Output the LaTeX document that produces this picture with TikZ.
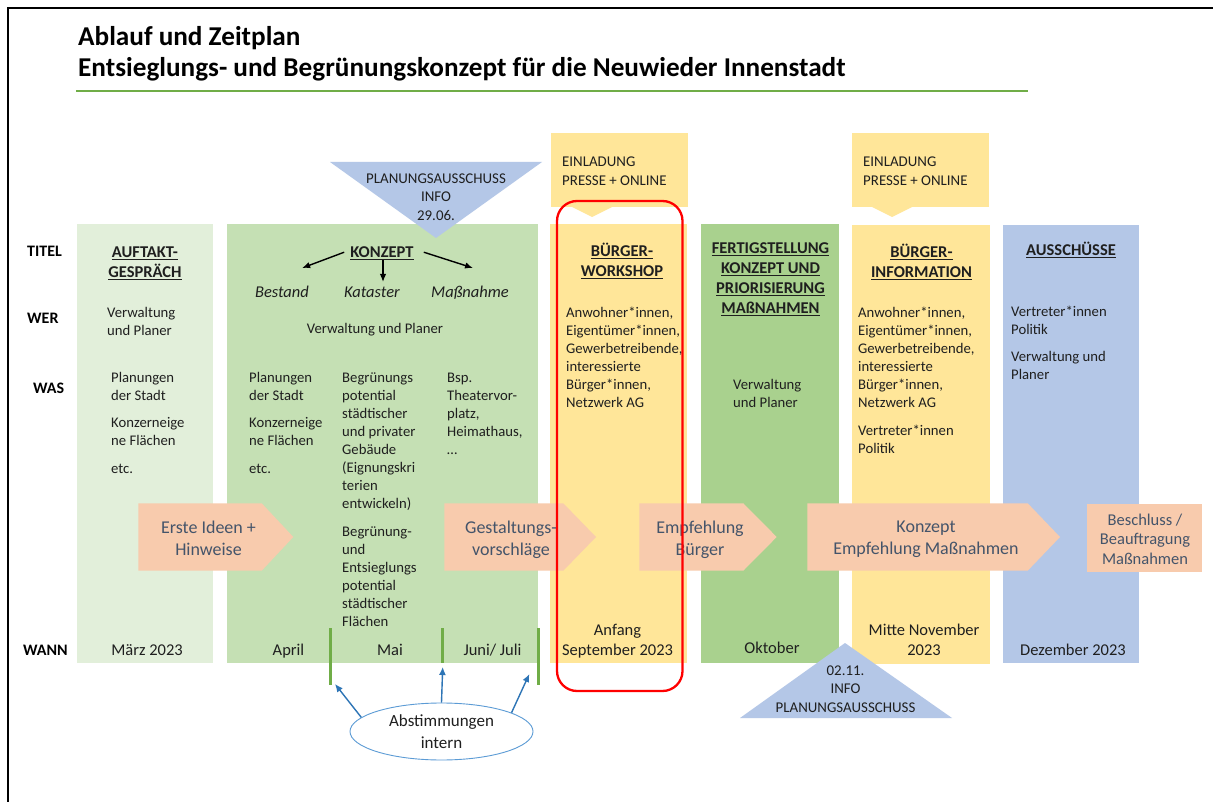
\documentclass[tikz,border=0pt]{standalone}
\usepackage{fontspec}
\setmainfont{Carlito}
\usetikzlibrary{shapes.geometric,arrows.meta,calc}
\definecolor{cA}{HTML}{E2EFDA}
\definecolor{cB}{HTML}{C5E0B4}
\definecolor{cY}{HTML}{FFE699}
\definecolor{cG}{HTML}{A9D18E}
\definecolor{cBl}{HTML}{B4C7E7}
\definecolor{cS}{HTML}{F8CBAD}
\definecolor{cT}{HTML}{44546A}
\definecolor{txt}{HTML}{1F1F1F}
\definecolor{gline}{HTML}{70AD47}
\definecolor{bline}{HTML}{2E75B6}
\definecolor{eline}{HTML}{5B9BD5}
\newcommand\uln[1]{\setbox0\hbox{#1}\rlap{\rule[-2.6pt]{\wd0}{1.1pt}}\box0}
\tikzset{
  ttl/.style={font=\bfseries\fontsize{27.2}{32}\selectfont, inner sep=0pt, anchor=base west},
  body/.style={font=\fontsize{14.7}{18}\selectfont, text=txt, inner sep=0pt, align=left, anchor=north west, yshift=12.6pt},
  hd/.style={font=\bfseries\fontsize{16.5}{20}\selectfont, text=txt, inner sep=0pt, align=center, anchor=north, yshift=14pt},
  wann/.style={font=\fontsize{16.5}{19.5}\selectfont, text=txt, inner sep=0pt, align=center, anchor=north, yshift=13.65pt},
  itl/.style={font=\itshape\fontsize{16.5}{20}\selectfont, text=txt, inner sep=0pt, anchor=north, yshift=14pt},
  caps/.style={font=\fontsize{14.9}{18.5}\selectfont, text=txt, inner sep=0pt, align=left, anchor=north west, yshift=12.95pt},
  capsc/.style={caps, align=center, anchor=north},
  rowlab/.style={font=\bfseries\fontsize{16}{19}\selectfont, inner sep=0pt, anchor=base west},
  chtxt/.style={font=\fontsize{18}{22}\selectfont, text=cT, inner sep=0pt, align=center, anchor=north, yshift=15.4pt},
  bstxt/.style={font=\fontsize{16.5}{19.5}\selectfont, text=cT, inner sep=0pt, align=center, anchor=north, yshift=13.65pt},
  karr/.style={line width=1.4pt, -{Latex[length=8pt,width=6.5pt]}},
  barr/.style={draw=bline, line width=1.4pt, -{Latex[length=8pt,width=7pt]}},
  gbar/.style={draw=gline, line width=3pt},
}
\begin{document}
\begin{tikzpicture}[x=1pt,y=-1pt]
\useasboundingbox (0,0) rectangle (1213,802);
\fill[white] (0,0) rectangle (1213,802);
% frame
\draw[line width=2.5pt] (8,802) -- (8,8) -- (1213,8);
% title
\node[ttl] (t1) at (78,46) {Ablauf und Zeitplan};
\node[ttl] (t2) at (78,76.5) {Entsieglungs- und Begrünungskonzept für die Neuwieder Innenstadt};
\draw[draw=gline, line width=2.2pt] (76,91) -- (1028,91);
% columns
\fill[cA] (77,224) rectangle (213,663);
\fill[cB] (227,224) rectangle (538,663);
\fill[cY] (550,224) rectangle (687,663);
\fill[cG] (701,224) rectangle (839,663);
\fill[cY] (852,225) rectangle (990,664);
\fill[cBl] (1003,225) rectangle (1139,663);
% callouts
\fill[cY] (551,133) rectangle (688,207.5);
\fill[cY] (572,207) -- (592,217) -- (612,207) -- cycle;
\fill[cY] (852,133) rectangle (989,207.5);
\fill[cY] (872,207) -- (892,217) -- (912,207) -- cycle;
% triangles
\fill[cBl] (330,162) -- (542,162) -- (436,238) -- cycle;
\fill[cBl] (740,718) -- (952,718) -- (845,643) -- cycle;
% chevrons
\fill[cS] (138.3,503.3) -- (261.7,503.3) -- (293.3,537) -- (261.7,570.7) -- (138.3,570.7) -- cycle;
\fill[cS] (444.3,503.3) -- (563.3,503.3) -- (596,537) -- (563.3,570.7) -- (444.3,570.7) -- cycle;
\fill[cS] (639.3,503.3) -- (743.3,503.3) -- (776.7,537) -- (743.3,570.7) -- (639.3,570.7) -- cycle;
\fill[cS] (807.3,503.3) -- (1027.7,503.3) -- (1060,537) -- (1027.7,570.7) -- (807.3,570.7) -- cycle;
\fill[cS] (1086.7,504) rectangle (1201.7,572.3);
% row labels
\node[rowlab] (rTitel) at (27,256.5) {TITEL};
\node[rowlab] (rWer) at (27,324) {WER};
\node[rowlab] (rWas) at (33,393) {WAS};
\node[rowlab] (rWann) at (23,655.5) {WANN};
% callout texts
\node[caps] (inv1) at (562,166.5) {\strut EINLADUNG\\PRESSE + ONLINE};
\node[caps] (inv2) at (863,166.5) {\strut EINLADUNG\\PRESSE + ONLINE};
\node[capsc] (ta) at (436,183) {\strut PLANUNGSAUSSCHUSS\\INFO\\29.06.};
\node[capsc] (tb) at (845.5,675) {\strut 02.11.\\INFO\\PLANUNGSAUSSCHUSS};
% column 1
\node[hd] (h1) at (145,257) {\strut\uln{AUFTAKT-}\\\uln{GESPRÄCH}};
\node[body] (c1wer) at (107,317) {\strut Verwaltung\\und Planer};
\node[body] (c1a) at (111,382) {\strut Planungen\\der Stadt};
\node[body] (c1b) at (111,427.5) {\strut Konzerneige\\ne Flächen};
\node[body] (c1c) at (111,473) {\strut etc.};
\node[wann] (w1) at (147,655) {\strut März 2023};
% column 2
\node[hd] (konzept) at (382,257) {\strut\uln{KONZEPT}};
\node[itl] (bestand) at (282,297) {\strut Bestand};
\node[itl] (kataster) at (372,297) {\strut Kataster};
\node[itl] (massn) at (470,297) {\strut Maßnahme};
\draw[karr] ($(konzept.west)+(-6,-1)$) -- ($(bestand.north east)+(-7,-15)$);
\draw[karr] ($(konzept.south)+(1,-3)$) -- ($(kataster.north)+(11,-1)$);
\draw[karr] ($(konzept.east)+(10,-1)$) -- ($(massn.north)+(3,-15)$);
\node[body, anchor=north] (c2wer) at (375,333) {\strut Verwaltung und Planer};
\node[body] (c2a) at (249,382) {\strut Planungen\\der Stadt};
\node[body] (c2b) at (249,427.5) {\strut Konzerneige\\ne Flächen};
\node[body] (c2c) at (249,473) {\strut etc.};
\node[body] (c2d) at (342,382) {\strut Begrünungs\\potential\\städtischer\\und privater\\Gebäude\\(Eignungskri\\terien\\entwickeln)};
\node[body] (c2e) at (342,536) {\strut Begrünung-\\und\\Entsieglungs\\potential\\städtischer\\Flächen};
\node[body] (c2f) at (447,382) {\strut Bsp.\\Theatervor-\\platz,\\Heimathaus,\\…};
\node[wann] (w2a) at (288.5,655) {\strut April};
\node[wann] (w2b) at (390,655) {\strut Mai};
\node[wann] (w2c) at (492.5,655) {\strut Juni/ Juli};
% column 3
\node[hd] (h3) at (622,256.5) {\strut\uln{BÜRGER-}\\\uln{WORKSHOP}};
\node[body] (c3wer) at (566,317) {\strut Anwohner*innen,\\Eigentümer*innen,\\Gewerbetreibende,\\interessierte\\Bürger*innen,\\Netzwerk AG};
\node[wann] (w3) at (617.5,635.5) {\strut Anfang\\September 2023};
% column 4
\node[hd] (h4) at (770.5,253.5) {\strut\uln{FERTIGSTELLUNG}\\\uln{KONZEPT UND}\\\uln{PRIORISIERUNG}\\\uln{MAßNAHMEN}};
\node[body] (c4wer) at (733,389) {\strut Verwaltung\\und Planer};
\node[wann] (w4) at (772,653) {\strut Oktober};
% column 5
\node[hd] (h5) at (921.5,257) {\strut\uln{BÜRGER-}\\\uln{INFORMATION}};
\node[body] (c5wer) at (858,317) {\strut Anwohner*innen,\\Eigentümer*innen,\\Gewerbetreibende,\\interessierte\\Bürger*innen,\\Netzwerk AG};
\node[body] (c5pol) at (858,435) {\strut Vertreter*innen\\Politik};
\node[wann] (w5) at (924,635.5) {\strut Mitte November\\2023};
% column 6
\node[hd] (h6) at (1071,255) {\strut\uln{AUSSCHÜSSE}};
\node[body] (c6a) at (1011,316.5) {\strut Vertreter*innen\\Politik};
\node[body] (c6b) at (1011,361.5) {\strut Verwaltung und\\Planer};
\node[wann] (w6) at (1073,655) {\strut Dezember 2023};
% chevron texts
\node[chtxt] (a1) at (208.5,533) {\strut Erste Ideen +\\Hinweise};
\node[chtxt] (a2) at (511,533) {\strut Gestaltungs-\\vorschläge};
\node[chtxt] (a3) at (700,533) {\strut Empfehlung\\Bürger};
\node[chtxt] (a4) at (926,532) {\strut Konzept\\Empfehlung Maßnahmen};
\node[bstxt] (a5) at (1145,525) {\strut Beschluss /\\Beauftragung\\Maßnahmen};
% green bars
\coordinate (b1t) at (330,628); \coordinate (b1b) at (330,685);
\coordinate (b2t) at (442.7,628); \coordinate (b2b) at (442.7,663);
\coordinate (b3t) at (538.3,628); \coordinate (b3b) at (538.3,685);
\draw[gbar] (b1t) -- (b1b);
\draw[gbar] (b2t) -- (b2b);
\draw[gbar] (b3t) -- (b3b);
% ellipse and arrows
\node[ellipse, draw=eline, line width=0.9pt, fill=white, minimum width=183pt, minimum height=57pt, inner sep=0pt, align=center, text=txt, font=\fontsize{17}{22}\selectfont] (abst) at (441.5,731.5) {Abstimmungen\\intern};
\coordinate (e1) at (335,684);
\coordinate (e2) at (442.7,667);
\coordinate (e3) at (529.3,674);
\draw[barr] (abst.170) -- (e1);
\draw[barr] (abst.north) -- (e2);
\draw[barr] (abst.15) -- (e3);
% red highlight
\draw[red, line width=2.3pt, rounded corners=20pt] (557,201) rectangle (682.5,691);
\end{tikzpicture}
\end{document}
